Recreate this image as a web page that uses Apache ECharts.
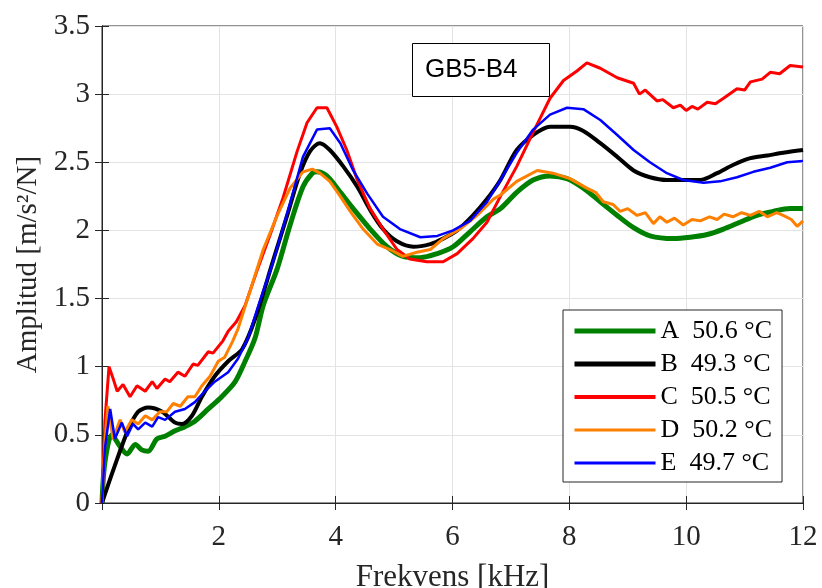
<!DOCTYPE html>
<html><head><meta charset="utf-8">
<script src="https://cdn.jsdelivr.net/npm/echarts@6/dist/echarts.min.js"></script>
<style>html,body{margin:0;padding:0;background:#fff}#c{width:822px;height:588px}</style>
</head><body><div id="c"></div>
<script>
const seriesNames = ['A  50.6 °C','B  49.3 °C','C  50.5 °C','D  50.2 °C','E  49.7 °C'];
const xTicks = [0,2,4,6,8,10,12];
const yTicks = [0,0.5,1,1.5,2,2.5,3,3.5];

const freqA = [0,0.05,0.17,0.3,0.43,0.57,0.68,0.79,0.94,1.08,1.25,1.42,1.59,1.82,2.05,2.28,2.45,2.62,2.76,3.0,3.22,3.44,3.6,3.68,3.85,4.08,4.3,4.59,4.88,5.15,5.45,5.74,6.01,6.3,6.59,6.82,7.1,7.38,7.67,7.96,8.24,8.53,8.82,9.1,9.38,9.78,10.07,10.36,10.64,10.92,11.21,11.49,11.78,12];
const ampA  = [0,0.3,0.5,0.42,0.36,0.43,0.39,0.38,0.47,0.49,0.53,0.56,0.6,0.69,0.78,0.89,1.04,1.21,1.45,1.72,2.04,2.32,2.42,2.43,2.4,2.28,2.16,2.01,1.88,1.81,1.8,1.83,1.88,1.99,2.1,2.16,2.28,2.37,2.4,2.38,2.31,2.21,2.11,2.02,1.96,1.94,1.95,1.97,2.01,2.06,2.11,2.14,2.16,2.16];

const freqB = [0,0.2,0.45,0.62,0.79,1.03,1.25,1.37,1.54,1.71,1.93,2.16,2.4,2.62,2.93,3.17,3.39,3.56,3.73,3.9,4.13,4.37,4.59,4.81,5.05,5.33,5.62,5.84,6.08,6.35,6.59,6.82,7.1,7.38,7.67,8.01,8.24,8.53,8.82,9.1,9.38,9.67,9.95,10.24,10.53,10.8,11.1,11.39,11.66,12];
const ampB  = [0,0.25,0.54,0.67,0.70,0.67,0.59,0.58,0.64,0.78,0.93,1.04,1.13,1.35,1.78,2.11,2.42,2.58,2.64,2.59,2.47,2.32,2.15,2.01,1.92,1.88,1.9,1.94,2.0,2.11,2.23,2.37,2.59,2.7,2.76,2.76,2.73,2.64,2.54,2.44,2.39,2.37,2.37,2.37,2.42,2.48,2.53,2.55,2.57,2.59];

const freqC = [0,0.05,0.12,0.2,0.26,0.36,0.48,0.6,0.74,0.86,0.94,1.08,1.16,1.3,1.42,1.56,1.64,1.82,1.9,2.07,2.16,2.3,2.45,2.53,2.65,2.88,3.1,3.34,3.51,3.68,3.85,4.02,4.19,4.37,4.59,4.81,5.05,5.27,5.56,5.84,6.08,6.35,6.59,6.82,7.1,7.38,7.67,7.9,8.13,8.3,8.53,8.82,9.1,9.2,9.3,9.5,9.6,9.78,9.9,10.0,10.1,10.2,10.36,10.5,10.64,10.87,11.0,11.1,11.3,11.44,11.6,11.78,12];
const ampC  = [0,0.6,1.0,0.9,0.82,0.87,0.78,0.86,0.82,0.89,0.84,0.91,0.89,0.96,0.93,1.02,1.01,1.11,1.1,1.19,1.26,1.33,1.45,1.55,1.70,1.97,2.24,2.58,2.79,2.9,2.9,2.76,2.59,2.37,2.16,2.01,1.86,1.79,1.77,1.77,1.83,1.94,2.06,2.25,2.47,2.72,2.97,3.1,3.17,3.23,3.19,3.12,3.08,3.0,3.03,2.95,2.96,2.9,2.92,2.88,2.91,2.89,2.94,2.93,2.97,3.04,3.03,3.09,3.11,3.16,3.15,3.21,3.2];

const freqD = [0,0.05,0.1,0.19,0.31,0.39,0.51,0.62,0.74,0.86,0.99,1.11,1.22,1.34,1.47,1.59,1.71,1.85,1.99,2.1,2.23,2.33,2.53,2.76,3.0,3.22,3.44,3.6,3.73,3.9,4.08,4.25,4.47,4.71,4.93,5.15,5.39,5.62,5.84,6.13,6.42,6.7,6.82,7.1,7.45,7.72,8.01,8.3,8.45,8.58,8.75,8.87,9.0,9.16,9.3,9.44,9.55,9.67,9.8,9.95,10.1,10.24,10.4,10.53,10.65,10.8,10.95,11.1,11.25,11.39,11.55,11.66,11.8,11.9,12];
const ampD  = [0,0.45,0.71,0.47,0.61,0.52,0.61,0.58,0.64,0.61,0.67,0.67,0.73,0.71,0.78,0.78,0.86,0.93,1.04,1.07,1.18,1.28,1.55,1.86,2.11,2.31,2.43,2.45,2.42,2.36,2.25,2.14,2.01,1.9,1.86,1.81,1.84,1.86,1.94,2.01,2.11,2.23,2.26,2.36,2.44,2.42,2.38,2.31,2.28,2.21,2.19,2.14,2.16,2.11,2.13,2.05,2.1,2.06,2.09,2.04,2.08,2.07,2.1,2.08,2.12,2.1,2.13,2.11,2.14,2.1,2.13,2.11,2.08,2.03,2.07];

const freqE = [0,0.05,0.14,0.22,0.34,0.43,0.53,0.62,0.74,0.86,0.96,1.08,1.25,1.42,1.59,1.76,1.93,2.16,2.33,2.5,2.7,2.93,3.22,3.44,3.68,3.9,4.08,4.3,4.54,4.81,5.1,5.45,5.74,6.01,6.3,6.59,6.82,7.1,7.38,7.67,7.96,8.24,8.53,8.82,9.1,9.38,9.67,9.95,10.3,10.58,10.87,11.15,11.44,11.73,12];
const ampE  = [0,0.4,0.69,0.47,0.59,0.49,0.58,0.54,0.59,0.56,0.63,0.61,0.67,0.69,0.74,0.82,0.89,0.96,1.06,1.21,1.48,1.77,2.2,2.54,2.74,2.75,2.64,2.44,2.27,2.1,2.01,1.95,1.96,2.0,2.07,2.21,2.37,2.57,2.74,2.85,2.9,2.89,2.81,2.7,2.59,2.5,2.42,2.37,2.35,2.36,2.39,2.43,2.46,2.5,2.51];

const colors = ['#008000','#000000','#ff0000','#ff8000','#0000ff'];
const widths = [5,4,3,3,2.5];
const legendWidths = [5,5,4,3,3];
const freqs = [freqA,freqB,freqC,freqD,freqE];
const amps = [ampA,ampB,ampC,ampD,ampE];
const smooths = [0.3,0.3,false,false,false];

const chart = echarts.init(document.getElementById('c'), null, {renderer:'canvas'});
const serif = 'Liberation Serif';
const axCol = '#262626';
const series = seriesNames.map((n,i)=>({
  name:n, type:'line', symbol:'none', smooth:smooths[i],
  data: freqs[i].map((f,j)=>[f, amps[i][j]]),
  lineStyle:{color:colors[i], width:widths[i]}, itemStyle:{color:colors[i]},
  animation:false, z:2+i
}));
chart.setOption({
  backgroundColor:'#fff',
  animation:false,
  grid:{left:102, right:19, top:26, bottom:85, show:true, borderColor:axCol, borderWidth:1,
        containLabel:false, outerBoundsMode:'none'},
  xAxis:[{type:'value', min:0, max:12, interval:2,
    axisLine:{show:true, lineStyle:{color:axCol}},
    axisTick:{inside:true, length:7, lineStyle:{color:axCol}},
    axisLabel:{margin:20, fontFamily:serif, fontSize:29, color:axCol, formatter:v=> v===0 ? '' : String(v)},
    splitLine:{show:true, lineStyle:{color:'#e3e3e3', width:1}},
    name:'Frekvens [kHz]', nameLocation:'middle', nameGap:59,
    nameTextStyle:{fontFamily:serif, fontSize:31, color:axCol}},
   {type:'value', min:0, max:12, interval:2, position:'top',
    axisLine:{show:true, lineStyle:{color:axCol}}, axisTick:{inside:true, length:7, lineStyle:{color:axCol}},
    axisLabel:{show:false}, splitLine:{show:false}}],
  yAxis:[{type:'value', min:0, max:3.5, interval:0.5,
    axisLine:{show:true, lineStyle:{color:axCol}},
    axisTick:{inside:true, length:7, lineStyle:{color:axCol}},
    axisLabel:{margin:12, fontFamily:serif, fontSize:29, color:axCol, formatter:v=>String(v)},
    splitLine:{show:true, lineStyle:{color:'#e3e3e3', width:1}},
    name:'Amplitud [m/s²/N]', nameLocation:'middle', nameGap:58, nameRotate:90,
    nameTextStyle:{fontFamily:serif, fontSize:29, color:axCol}},
   {type:'value', min:0, max:3.5, interval:0.5, position:'right',
    axisLine:{show:true, lineStyle:{color:axCol}}, axisTick:{inside:true, length:7, lineStyle:{color:axCol}},
    axisLabel:{show:false}, splitLine:{show:false}}],
  legend:{orient:'vertical', left:563, top:310, itemWidth:81, itemHeight:14, itemGap:7,
    padding:[8,10,6,9], borderColor:axCol, borderWidth:1, backgroundColor:'#fff',
    itemStyle:{opacity:0},
    textStyle:{fontFamily:serif, fontSize:26, color:'#000', lineHeight:26},
    data:seriesNames.map((n,i)=>({name:n, lineStyle:{width:legendWidths[i], color:colors[i]}}))},
  graphic:[
    {type:'rect', shape:{x:412.5,y:43.5,width:137,height:53}, style:{fill:'#fff', stroke:'#000', lineWidth:1}, z:10},
    {type:'text', x:425, y:70, style:{text:'GB5-B4', font:'26px "Liberation Sans"', fill:'#000', align:'left', verticalAlign:'middle'}, z:11}
  ],
  series: series
});
</script></body></html>
